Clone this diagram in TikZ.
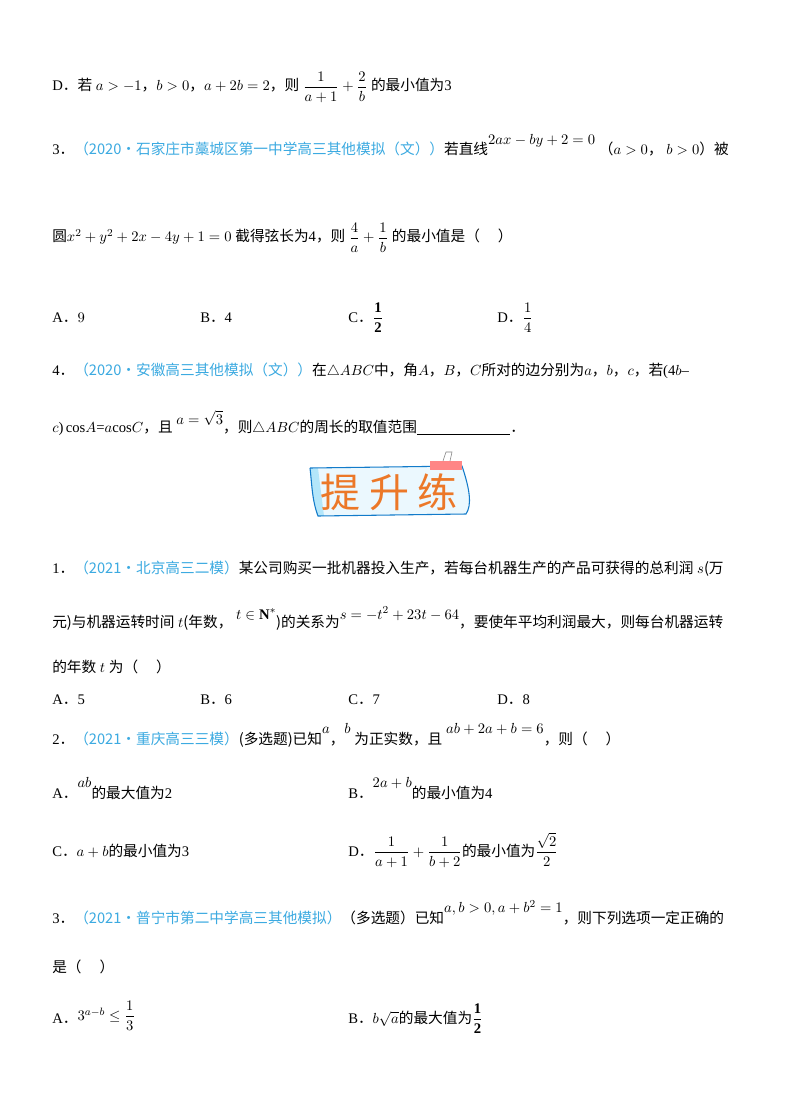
\documentclass[tikz,border=0pt]{standalone}
\usepackage{fontspec}
\usepackage{amsmath,amssymb}
\newfontfamily\cjk{Noto Sans CJK SC}
\setmainfont{Liberation Serif}
\definecolor{src}{RGB}{60,170,225}
\definecolor{ban}{RGB}{236,120,40}
\newcommand\zc[1]{{\cjk #1}}
\newcommand\zs[1]{\textcolor{src}{\cjk #1}}
\newcommand\zd{{\cjk ．}}
\begin{document}
\begin{tikzpicture}[x=0.75pt,y=-0.75pt,
  t/.style={anchor=base west,inner sep=0pt,font=\fontsize{11}{12}\selectfont}]
\useasboundingbox (0,0) rectangle (800,1109);
\fill[white] (0,0) rectangle (800,1109);
\node[t] (l1) at (52,91) {D\zd\zc{若} $a>-1$\zc{，}$b>0$\zc{，}$a+2b=2$\zc{，则} $\dfrac{1}{a+1}+\dfrac{2}{b}$ \zc{的最小值为}3};
\node[t] (l2) at (52,155) {3\zd\zs{（2020•石家庄市藁城区第一中学高三其他模拟（文））}\zc{若直线}\raisebox{8pt}{$2ax-by+2=0$}\ \zc{（}$a>0$\zc{，} $b>0$\zc{）被}};
\node[t] (l3) at (52,242) {\zc{圆}$x^2+y^2+2x-4y+1=0$ \zc{截得弦长为}4\zc{，则} $\dfrac{4}{a}+\dfrac{1}{b}$ \zc{的最小值是（\quad\ ）}};
\node[t] (a1) at (52,322) {A\zd$\large 9$};
\node[t] (b1) at (200,322) {B\zd 4};
\node[t] (c1) at (348,322) {C\zd$\dfrac{\mathbf 1}{\mathbf 2}$};
\node[t] (d1) at (497,322) {D\zd$\dfrac{1}{4}$};
\node[t] (l4) at (52,375) {4\zd\zs{（2020•安徽高三其他模拟（文））}\zc{在}$\triangle ABC$\zc{中，角}$A$\zc{，}$B$\zc{，}$C$\zc{所对的边分别为}$a$\zc{，}$b$\zc{，}$c$\zc{，若}(4$b$–};
\node[t] (l5) at (52,432) {$c$)\,cos$A$=$a$cos$C$\zc{，且} \raisebox{6pt}{$a=\sqrt3$}\zc{，则}$\triangle ABC$\zc{的周长的取值范围}\underline{\hspace{70pt}}\zd};
% banner
\fill[cyan!8] (310,468) -- (462,466) .. controls (470,490) and (472,505) .. (466,514) -- (318,516) .. controls (312,500) and (312,485) .. (310,468);
\fill[cyan!30] (310,468) -- (318,468) .. controls (320,485) and (322,500) .. (324,516) -- (318,516) .. controls (312,500) and (312,485) .. (310,468);
\draw[cyan!60!blue,line width=0.8pt] (310,468) -- (462,466) .. controls (470,490) and (472,505) .. (466,514) -- (318,516) .. controls (312,500) and (312,485) .. (310,468);
\fill[pink!70!red] (430,461) rectangle (462,470);
\draw[gray] (443,461) -- (446,452) -- (452,452) -- (450,461);
\node[font=\cjk\fontsize{30}{30}\selectfont,text=ban] (ban) at (389,492) {提 升 练};
\node[t] (m1) at (52,573) {1\zd\zs{（2021•北京高三二模）}\zc{某公司购买一批机器投入生产，若每台机器生产的产品可获得的总利润} $s$\zc{(万}};
\node[t] (m2) at (52,627) {\zc{元)与机器运转时间} $t$\zc{(年数，} \raisebox{6pt}{$t\in\mathbf N^*$}\zc{)的关系为}\raisebox{6pt}{$s=-t^2+23t-64$}\zc{，要使年平均利润最大，则每台机器运转}};
\node[t] (m3) at (52,672) {\zc{的年数} $t$ \zc{为（\quad\ ）}};
\node[t] at (52,704) {A\zd 5};
\node[t] at (200,704) {B\zd 6};
\node[t] at (348,704) {C\zd 7};
\node[t] at (497,704) {D\zd 8};
\node[t] (m4) at (52,744) {2\zd\zs{（2021•重庆高三三模）}\zc{(多选题)已知}\raisebox{8pt}{$a$}\zc{，}\raisebox{8pt}{$b$} \zc{为正实数，且} \raisebox{8pt}{$ab+2a+b=6$}\zc{，则（\quad\ ）}};
\node[t] at (52,798) {A\zd\raisebox{8pt}{$ab$}\zc{的最大值为}2};
\node[t] at (348,798) {B\zd\raisebox{8pt}{$2a+b$}\zc{的最小值为}4};
\node[t] at (52,856) {C\zd$a+b$\zc{的最小值为}3};
\node[t] at (348,856) {D\zd$\dfrac{1}{a+1}+\dfrac{1}{b+2}$\zc{的最小值为}$\dfrac{\sqrt2}{2}$};
\node[t] (m5) at (52,923) {3\zd\zs{（2021•普宁市第二中学高三其他模拟）}\zc{（多选题）已知}\raisebox{8pt}{$a,b>0,a+b^2=1$}\zc{，则下列选项一定正确的}};
\node[t] at (52,972) {\zc{是（\quad\ ）}};
\node[t] at (52,1023) {A\zd\raisebox{2pt}{$3^{a-b}\le\dfrac{1}{3}$}};
\node[t] at (348,1023) {B\zd$b\sqrt a$\zc{的最大值为}$\dfrac{\mathbf 1}{\mathbf 2}$};
\end{tikzpicture}
\end{document}
